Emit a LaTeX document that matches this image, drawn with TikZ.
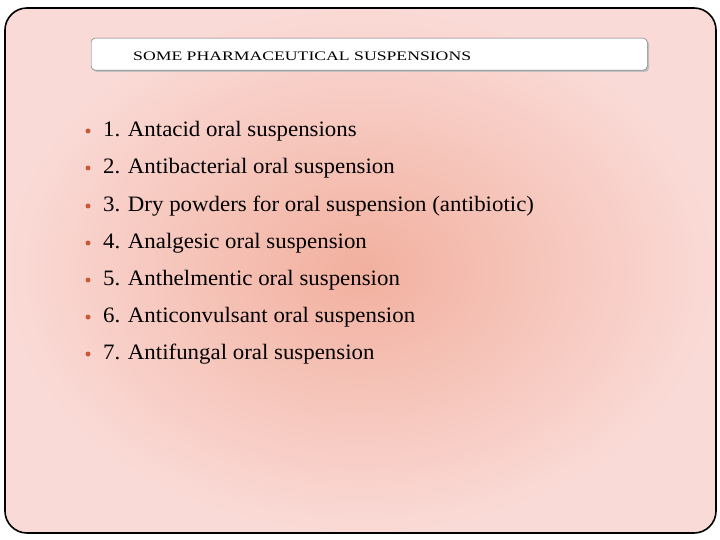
\documentclass[tikz,border=0pt]{standalone}
\usepackage{fontspec}
\setmainfont{Liberation Serif}
\definecolor{pinkout}{HTML}{FADAD6}
\definecolor{pinkin}{HTML}{F2B09F}
\definecolor{bul}{HTML}{C85A3A}
\tikzset{item/.style={anchor=west,inner sep=0pt,font=\fontsize{22}{24}\selectfont},
 dot/.style={circle,fill=bul,inner sep=0pt,minimum size=5pt}}
\begin{document}
\begin{tikzpicture}[x=1pt,y=-1pt]
\useasboundingbox (0,0) rectangle (720,540);
\fill[white] (0,0) rectangle (720,540);
\begin{scope}
\clip[rounded corners=22] (5,8) rectangle (716,533);
\shade[inner color=pinkin,outer color=pinkout] (5,8) rectangle (716,533);
\end{scope}
\draw[line width=1.6pt,rounded corners=22] (5,8) rectangle (716,533);
\fill[gray!50,rounded corners=4] (93,40) rectangle (649,72);
\node[draw=gray!80!black,fill=white,rounded corners=4,minimum width=556,minimum height=32,anchor=north west,inner sep=0pt] (title) at (91,38) {};
\node[anchor=west,inner sep=0pt,font=\fontsize{13}{15}\selectfont] (tt) at (133,56) {\scalebox{1.36}[1]{SOME PHARMACEUTICAL SUSPENSIONS}};
\foreach \y/\t [count=\i] in {131/{1. Antacid oral suspensions},168/{2. Antibacterial oral suspension},206/{3. Dry powders for oral suspension (antibiotic)},243/{4. Analgesic oral suspension},280/{5. Anthelmentic oral suspension},317/{6. Anticonvulsant oral suspension},354/{7. Antifungal oral suspension}}{
 \node[dot] (d\i) at (88,\y) {};
 \node[item] (t\i) at (103,\y) {\scalebox{1.04}[1]{\t}};
}
\end{tikzpicture}
\end{document}
